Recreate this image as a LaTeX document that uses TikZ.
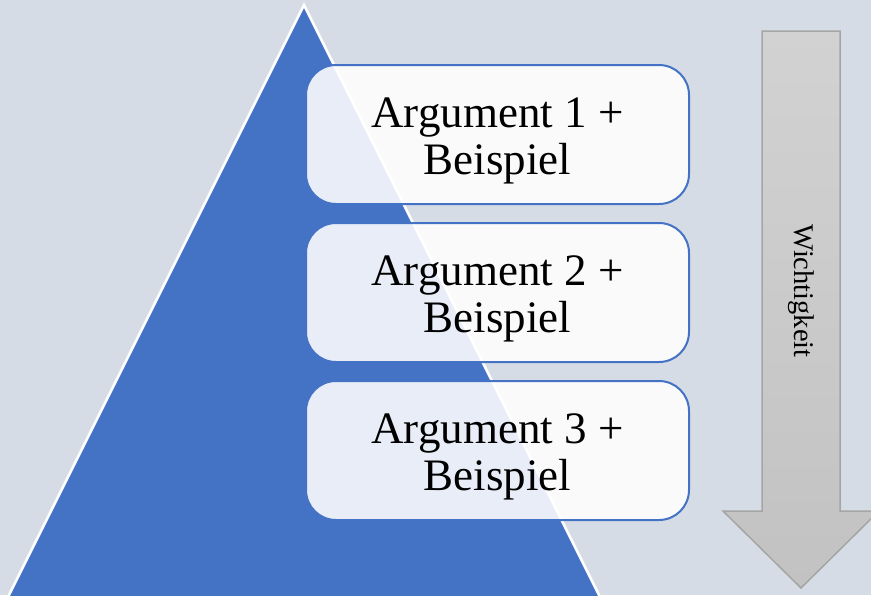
\documentclass[tikz,border=0pt]{standalone}
\usepackage{fontspec}
\setmainfont{Liberation Serif}
\definecolor{bgc}{HTML}{D6DCE5}
\definecolor{triblue}{HTML}{4472C4}
\definecolor{arrtop}{HTML}{D2D2D2}
\definecolor{arrbot}{HTML}{C2C2C2}
\definecolor{arredge}{HTML}{A5A5A5}
\tikzset{
  argbox/.style={draw=triblue, line width=2pt, fill=white, fill opacity=0.88,
    rounded corners=30pt, minimum width=383pt, minimum height=139pt, inner sep=0pt},
  argtext/.style={font=\fontsize{45}{47}\selectfont, align=center, text=black, inner sep=0pt},
}
\begin{document}
\begin{tikzpicture}[x=1pt,y=-1pt]
\useasboundingbox (0,0) rectangle (871,595);
\clip (0,0) rectangle (871,595);
\fill[bgc] (0,0) rectangle (871,595);
% pyramid
\draw[fill=triblue, draw=white, line width=2.5pt, line join=miter] (304,5) -- (604,605) -- (4,605) -- cycle;
% arrow
\draw[top color=arrtop, bottom color=arrbot, draw=arredge, line width=1.5pt]
  (762,31) -- (840,31) -- (840,511) -- (879,511) -- (801,588) -- (723,511) -- (762,511) -- cycle;
\node[rotate=-90, font=\fontsize{28.5}{30}\selectfont] (w) at (801,291) {Wichtigkeit};
% boxes
\node[argbox] (b1) at (497.5,134.5) {};
\node[argbox] (b2) at (497.5,292.5) {};
\node[argbox] (b3) at (497.5,450.5) {};
\node[argtext] (t1) at ([yshift=-6pt]b1.center) {Argument 1 +\\Beispiel};
\node[argtext] (t2) at ([yshift=-6pt]b2.center) {Argument 2 +\\Beispiel};
\node[argtext] (t3) at ([yshift=-6pt]b3.center) {Argument 3 +\\Beispiel};
\end{tikzpicture}
\end{document}
